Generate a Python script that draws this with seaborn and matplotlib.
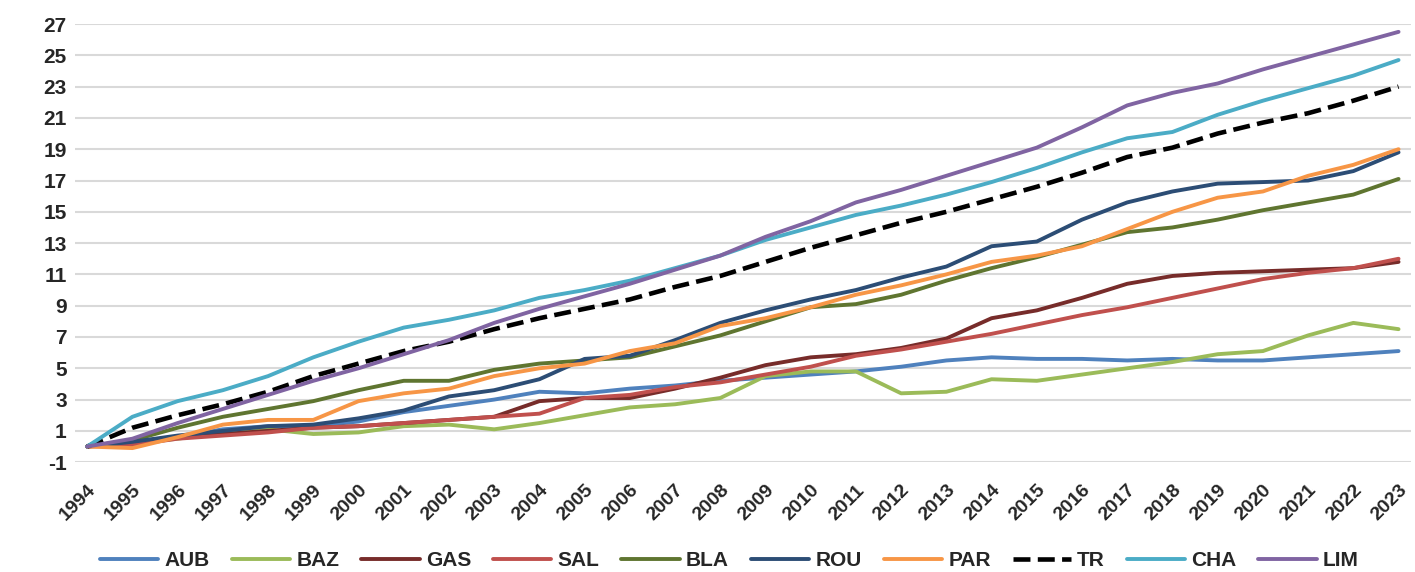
import numpy as np
import pandas as pd
import matplotlib
matplotlib.use("Agg")
import matplotlib.pyplot as plt
import seaborn as sns

years = list(range(1994, 2024))

AUB = [0, 0.3, 0.6, 1.1, 1.3, 1.3, 1.6, 2.2, 2.6, 3.0, 3.5, 3.4, 3.7, 3.9, 4.2, 4.4,
       4.6, 4.8, 5.1, 5.5, 5.7, 5.6, 5.6, 5.5, 5.6, 5.5, 5.5, 5.7, 5.9, 6.1]
BAZ = [0, 0.2, 0.5, 0.9, 1.1, 0.8, 0.9, 1.3, 1.4, 1.1, 1.5, 2.0, 2.5, 2.7, 3.1, 4.5,
       4.8, 4.8, 3.4, 3.5, 4.3, 4.2, 4.6, 5.0, 5.4, 5.9, 6.1, 7.1, 7.9, 7.5]
GAS = [0, 0.3, 0.6, 0.8, 1.0, 1.2, 1.3, 1.5, 1.7, 1.9, 2.9, 3.1, 3.1, 3.7, 4.4, 5.2,
       5.7, 5.9, 6.3, 6.9, 8.2, 8.7, 9.5, 10.4, 10.9, 11.1, 11.2, 11.3, 11.4, 11.8]
SAL = [0, 0.1, 0.5, 0.7, 0.9, 1.2, 1.3, 1.5, 1.7, 1.9, 2.1, 3.1, 3.3, 3.8, 4.1, 4.6,
       5.1, 5.8, 6.2, 6.7, 7.2, 7.8, 8.4, 8.9, 9.5, 10.1, 10.7, 11.1, 11.4, 12.0]
BLA = [0, 0.4, 1.2, 1.9, 2.4, 2.9, 3.6, 4.2, 4.2, 4.9, 5.3, 5.5, 5.7, 6.4, 7.1, 8.0,
       8.9, 9.1, 9.7, 10.6, 11.4, 12.1, 12.9, 13.7, 14.0, 14.5, 15.1, 15.6, 16.1, 17.1]
ROU = [0, 0.3, 0.7, 1.0, 1.3, 1.4, 1.8, 2.3, 3.2, 3.6, 4.3, 5.6, 5.8, 6.8, 7.9, 8.7,
       9.4, 10.0, 10.8, 11.5, 12.8, 13.1, 14.5, 15.6, 16.3, 16.8, 16.9, 17.0, 17.6, 18.8]
PAR = [0, -0.1, 0.6, 1.4, 1.7, 1.7, 2.9, 3.4, 3.7, 4.5, 5.0, 5.3, 6.1, 6.6, 7.7, 8.2,
       8.9, 9.7, 10.3, 11.0, 11.8, 12.2, 12.8, 13.9, 15.0, 15.9, 16.3, 17.3, 18.0, 19.0]
TR = [0, 1.2, 2.0, 2.7, 3.5, 4.5, 5.3, 6.1, 6.7, 7.5, 8.2, 8.8, 9.4, 10.2, 10.9, 11.8,
      12.7, 13.5, 14.3, 15.0, 15.8, 16.6, 17.5, 18.5, 19.1, 20.0, 20.7, 21.3, 22.1, 23.0]
CHA = [0, 1.9, 2.9, 3.6, 4.5, 5.7, 6.7, 7.6, 8.1, 8.7, 9.5, 10.0, 10.6, 11.4, 12.2, 13.2,
       14.0, 14.8, 15.4, 16.1, 16.9, 17.8, 18.8, 19.7, 20.1, 21.2, 22.1, 22.9, 23.7, 24.7]
LIM = [0, 0.5, 1.5, 2.4, 3.3, 4.2, 5.0, 5.9, 6.8, 7.9, 8.8, 9.6, 10.4, 11.3, 12.2, 13.4,
       14.4, 15.6, 16.4, 17.3, 18.2, 19.1, 20.4, 21.8, 22.6, 23.2, 24.1, 24.9, 25.7, 26.5]

series = {"AUB": AUB, "BAZ": BAZ, "GAS": GAS, "SAL": SAL, "BLA": BLA,
          "ROU": ROU, "PAR": PAR, "TR": TR, "CHA": CHA, "LIM": LIM}
colors = {"AUB": "#4F81BD", "BAZ": "#9BBB59", "GAS": "#772C2A", "SAL": "#C0504D",
          "BLA": "#5F7530", "ROU": "#2C4D75", "PAR": "#F79646", "TR": "#000000",
          "CHA": "#4BACC6", "LIM": "#8064A2"}

sns.set_theme(style="white")
plt.rcParams['font.family'] = ['Liberation Sans', 'DejaVu Sans']
plt.rcParams['axes.unicode_minus'] = False

fig = plt.figure(figsize=(14.15, 5.72), dpi=100)
ax = fig.add_axes([0.053, 0.192, 0.944, 0.766])

for name, vals in series.items():
    df = pd.DataFrame({"year": years, "value": vals})
    ls = "--" if name == "TR" else "-"
    lw = 3.3 if name == "TR" else 2.8
    sns.lineplot(data=df, x="year", y="value", color=colors[name], ax=ax,
                 label=name, linestyle=ls, linewidth=lw)

ax.set_xlim(1993.73, 2023.27)
ax.set_ylim(-1, 27)
ax.set_yticks(range(-1, 28, 2))
ax.set_xticks(years)
ax.set_xticklabels([str(y) for y in years], rotation=45, ha="right",
                   rotation_mode="anchor", fontsize=14, fontweight="bold")
for t in ax.get_yticklabels():
    t.set_fontsize(15)
    t.set_fontweight("bold")
ax.tick_params(axis="x", length=0, pad=14)
ax.tick_params(axis="y", length=0, pad=6)
ax.set_xlabel("")
ax.set_ylabel("")
ax.grid(axis="y", color="#D9D9D9", linewidth=1.5)
ax.set_axisbelow(True)
for s in ax.spines.values():
    s.set_visible(False)

leg = ax.legend(loc="lower center", bbox_to_anchor=(0.49, -0.29), ncol=10,
                frameon=False, handlelength=2.8, handletextpad=0.3,
                columnspacing=1.05, prop={"size": 15, "weight": "bold"})

fig.savefig("out.png", dpi=100)
